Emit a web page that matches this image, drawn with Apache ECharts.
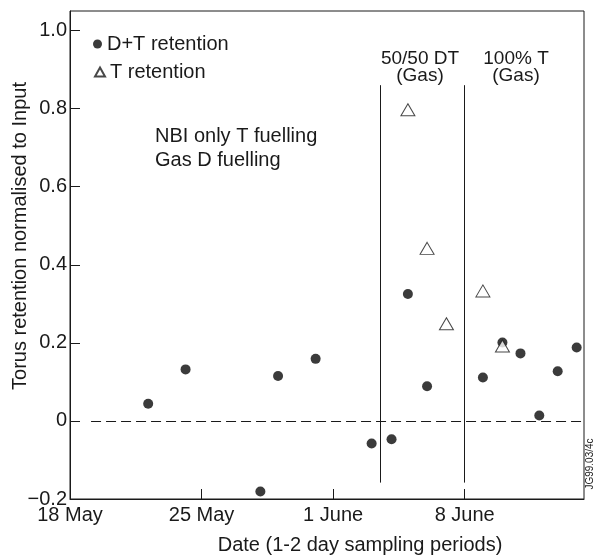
<!DOCTYPE html>
<html>
<head>
<meta charset="utf-8">
<script src="https://cdn.jsdelivr.net/npm/echarts@6/dist/echarts.min.js"></script>
<style>
html,body{margin:0;padding:0;background:#fff;}
#chart{width:598px;height:559px;}
</style>
</head>
<body>
<div id="chart"></div>
<script>
// Days counted from 18 May
var tickDays = [0, 7, 14, 21];
var tickLabels = ['18 May', '25 May', '1 June', '8 June'];
var yTicks = [-0.2, 0, 0.2, 0.4, 0.6, 0.8, 1.0];

var dtDays   = [4.16, 6.15, 10.13, 11.07, 13.07, 16.05, 17.11, 17.98, 19.0, 21.97, 23.01, 23.97, 24.97, 25.95, 26.96];
var dtValues = [0.044, 0.132, -0.181, 0.115, 0.159, -0.058, -0.047, 0.325, 0.089, 0.111, 0.201, 0.173, 0.014, 0.127, 0.188];

var tDays   = [17.98, 19.0, 20.03, 21.97, 23.01];
var tValues = [0.797, 0.442, 0.249, 0.333, 0.192];

var dividerDays = [16.5, 21];
var dividerRange = [-0.158, 0.86];
var zeroLineDays = [1.12, 27.35];

var FONT = '"Liberation Sans", Arial, Helvetica, sans-serif';
var INK = '#1a1a1a';

var chart = echarts.init(document.getElementById('chart'), null, {renderer: 'canvas'});

function zip(a, b) { return a.map(function (v, i) { return [v, b[i]]; }); }

var dividerLines = dividerDays.map(function (d) {
  return [{coord: [d, dividerRange[0]], symbol: 'none'}, {coord: [d, dividerRange[1]], symbol: 'none'}];
});
var zeroLine = [[{coord: [zeroLineDays[0], 0], symbol: 'none'}, {coord: [zeroLineDays[1], 0], symbol: 'none'}]];

var option = {
  backgroundColor: '#fff',
  animation: false,
  textStyle: {fontFamily: FONT},
  grid: {left: 70, right: 14, top: 11, bottom: 60, show: true, borderColor: INK, borderWidth: 1, backgroundColor: 'transparent'},
  xAxis: {
    type: 'value', min: 0, max: 27.35,
    splitLine: {show: false},
    axisLine: {show: true, onZero: false, lineStyle: {color: INK, width: 1}},
    axisTick: {show: true, inside: true, length: 10, lineStyle: {color: INK}, customValues: tickDays.slice(1)},
    axisLabel: {
      customValues: tickDays, fontSize: 20, color: INK, fontFamily: FONT, margin: 6,
      formatter: function (v) { var i = tickDays.indexOf(v); return i >= 0 ? tickLabels[i] : ''; }
    }
  },
  yAxis: {
    type: 'value', min: -0.2, max: 1.05,
    splitLine: {show: false},
    axisLine: {show: true, onZero: false, lineStyle: {color: INK, width: 1}},
    axisTick: {show: true, inside: true, length: 10, lineStyle: {color: INK}, customValues: yTicks},
    axisLabel: {
      customValues: yTicks, fontSize: 20, color: INK, fontFamily: FONT, margin: 3,
      formatter: function (v) {
        if (Math.abs(v) < 1e-9) return '0';
        var s = Math.abs(v).toFixed(1);
        return v < 0 ? '\u2212' + s : s;
      }
    }
  },
  legend: [
    {
      data: ['D+T retention'], orient: 'vertical', left: 88, top: 29,
      itemWidth: 9, itemHeight: 9, itemGap: 8,
      textStyle: {fontSize: 20, color: INK, fontFamily: FONT, padding: [0, 0, 0, 0]}
    },
    {
      data: ['T retention'], orient: 'vertical', left: 89, top: 57,
      itemWidth: 10, itemHeight: 9, itemGap: 8,
      textStyle: {fontSize: 20, color: INK, fontFamily: FONT, padding: [0, 0, 0, 0]}
    }
  ],
  series: [
    {
      name: 'D+T retention', type: 'scatter', symbol: 'circle', symbolSize: 10,
      itemStyle: {color: '#0a0a0a'},
      data: zip(dtDays, dtValues),
      markLine: {
        silent: true, symbol: 'none', label: {show: false},
        lineStyle: {color: INK, width: 1, type: 'solid'},
        data: dividerLines
      },
      z: 3
    },
    {
      name: 'T retention', type: 'scatter', symbol: 'triangle', symbolSize: [14, 12],
      itemStyle: {color: '#fff', borderColor: INK, borderWidth: 1},
      data: zip(tDays, tValues),
      markLine: {
        silent: true, symbol: 'none', label: {show: false},
        lineStyle: {color: INK, width: 1, type: [10, 5]},
        data: zeroLine
      },
      z: 4
    }
  ],
  graphic: [
    {type: 'text', x: 20, y: 236, rotation: Math.PI / 2,
      style: {text: 'Torus retention normalised to Input', font: '20px ' + FONT, fill: INK, textAlign: 'center', textVerticalAlign: 'middle'}},
    {type: 'text', x: 360, y: 545,
      style: {text: 'Date (1-2 day sampling periods)', font: '20px ' + FONT, fill: INK, textAlign: 'center', textVerticalAlign: 'middle'}},
    {type: 'text', x: 155, y: 124,
      style: {text: 'NBI only T fuelling\nGas D fuelling', font: '20px ' + FONT, fill: INK, lineHeight: 24, textAlign: 'left', textVerticalAlign: 'top'}},
    {type: 'text', x: 420, y: 50,
      style: {text: '50/50 DT\n(Gas)', font: '19px ' + FONT, fill: INK, lineHeight: 17, textAlign: 'center', textVerticalAlign: 'top'}},
    {type: 'text', x: 516, y: 50,
      style: {text: '100% T\n(Gas)', font: '19px ' + FONT, fill: INK, lineHeight: 17, textAlign: 'center', textVerticalAlign: 'top'}},
    {type: 'text', x: 590, y: 464, rotation: Math.PI / 2,
      style: {text: 'JG99.03/4c', font: '10px ' + FONT, fill: INK, textAlign: 'center', textVerticalAlign: 'middle'}}
  ]
};
chart.setOption(option);
</script>
</body>
</html>
